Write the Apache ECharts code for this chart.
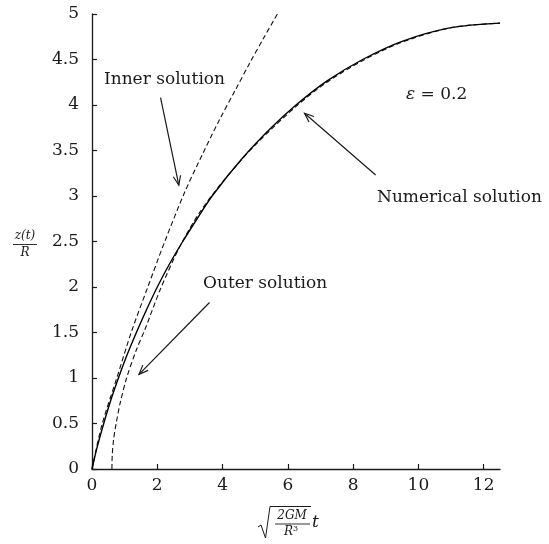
<!DOCTYPE html>
<html>
<head>
<meta charset="utf-8">
<script src="https://cdn.jsdelivr.net/npm/echarts@6/dist/echarts.min.js"></script>
<style>
  html, body { margin: 0; padding: 0; background: #ffffff; }
  #chart { width: 549px; height: 544px; }
</style>
</head>
<body>
<div id="chart"></div>
<script>
// Tick values
const xTickValues = [0, 2, 4, 6, 8, 10, 12];
const yTickValues = [0, 0.5, 1, 1.5, 2, 2.5, 3, 3.5, 4, 4.5, 5];

// Numerical solution (solid)
const tNumerical = [0, 0.15, 0.36, 0.58, 0.81, 1.07, 1.36, 1.67, 2.0, 2.37, 2.78, 3.22, 3.68, 4.62, 5.49, 6.25, 7.18, 8.29, 9.5, 11.0, 12.5];
const zNumerical = [0, 0.23, 0.5, 0.76, 1.0, 1.25, 1.5, 1.75, 2.0, 2.25, 2.5, 2.75, 3.0, 3.42, 3.75, 4.0, 4.26, 4.5, 4.7, 4.85, 4.9];

// Inner solution (dashed)
const tInner = [0, 0.3, 0.76, 1.21, 1.71, 2.23, 2.85, 3.4, 3.91, 4.4, 4.83, 5.25, 5.68];
const zInner = [0, 0.48, 1.0, 1.51, 2.0, 2.5, 3.05, 3.47, 3.84, 4.17, 4.46, 4.73, 5.0];

// Outer solution (dashed)
const tOuter = [0.61, 0.62, 0.66, 0.74, 0.86, 1.06, 1.35, 1.64, 2.1, 2.7, 3.3, 4.1, 5.0, 6.3, 7.2, 8.3, 9.5, 11.0, 12.5];
const zOuter = [0, 0.15, 0.32, 0.5, 0.72, 1.0, 1.3, 1.55, 1.98, 2.45, 2.82, 3.2, 3.56, 4.0, 4.25, 4.49, 4.69, 4.85, 4.9];

const zip = (xs, ys) => xs.map((x, i) => [x, ys[i]]);

const SERIF = "'DejaVu Serif', 'Liberation Serif', serif";
const INK = '#1a1a1a';

const chart = echarts.init(document.getElementById('chart'), null, { renderer: 'canvas' });

const axisCommon = {
  axisLine: { show: true, onZero: false, lineStyle: { color: INK, width: 1.3 } },
  axisTick: { show: true, inside: true, length: 5, lineStyle: { color: INK, width: 1.2 } },
  splitLine: { show: false },
  axisLabel: { color: INK, fontFamily: SERIF, fontSize: 17 }
};

chart.setOption({
  animation: false,
  backgroundColor: '#ffffff',
  grid: { left: 92, right: 49, top: 14, bottom: 75, containLabel: false },
  xAxis: {
    type: 'value', min: 0, max: 12.5,
    ...axisCommon,
    axisTick: { ...axisCommon.axisTick, customValues: xTickValues },
    axisLabel: { ...axisCommon.axisLabel, margin: 8, customValues: xTickValues }
  },
  yAxis: {
    type: 'value', min: 0, max: 5, interval: 0.5,
    ...axisCommon,
    axisTick: { ...axisCommon.axisTick, customValues: yTickValues },
    axisLabel: { ...axisCommon.axisLabel, margin: 13, customValues: yTickValues }
  },
  series: [
    {
      name: 'Numerical solution', type: 'line', data: zip(tNumerical, zNumerical),
      smooth: 0.3, showSymbol: false, silent: true,
      lineStyle: { color: '#000', width: 1.4, type: 'solid' }, z: 3
    },
    {
      name: 'Inner solution', type: 'line', data: zip(tInner, zInner),
      smooth: 0.3, showSymbol: false, silent: true,
      lineStyle: { color: '#111', width: 1.1, type: [5, 3] }, z: 2
    },
    {
      name: 'Outer solution', type: 'line', data: zip(tOuter, zOuter),
      smooth: 0.3, showSymbol: false, silent: true,
      lineStyle: { color: '#111', width: 1.1, type: [5, 3] }, z: 2
    }
  ]
});

// Annotation arrows, given in data coordinates: [tail, head]
const arrows = [
  [[2.10, 4.08], [2.66, 3.12]],
  [[8.69, 3.23], [6.51, 3.91]],
  [[3.60, 1.83], [1.44, 1.04]]
];

function arrowGraphic(from, to) {
  const p0 = chart.convertToPixel({ gridIndex: 0 }, from);
  const p1 = chart.convertToPixel({ gridIndex: 0 }, to);
  const ang = Math.atan2(p0[1] - p1[1], p0[0] - p1[0]);
  const len = 10, spread = 0.38;
  const a = [p1[0] + len * Math.cos(ang + spread), p1[1] + len * Math.sin(ang + spread)];
  const b = [p1[0] + len * Math.cos(ang - spread), p1[1] + len * Math.sin(ang - spread)];
  const style = { stroke: INK, lineWidth: 1.2, fill: null };
  return [
    { type: 'polyline', shape: { points: [p0, p1] }, style, silent: true },
    { type: 'polyline', shape: { points: [a, p1, b] }, style, silent: true }
  ];
}

const textStyle = (extra) => Object.assign({ fill: INK, font: '17px ' + SERIF }, extra);

const graphics = [];
arrows.forEach(([f, t]) => graphics.push(...arrowGraphic(f, t)));

graphics.push(
  { type: 'text', x: 104, y: 80, style: textStyle({ text: 'Inner solution', verticalAlign: 'middle' }) },
  { type: 'text', x: 377, y: 198, style: textStyle({ text: 'Numerical solution', verticalAlign: 'middle' }) },
  { type: 'text', x: 203, y: 284, style: textStyle({ text: 'Outer solution', verticalAlign: 'middle' }) },
  {
    type: 'text', x: 406, y: 95,
    style: {
      text: '{e|ε} = 0.2', verticalAlign: 'middle', fill: INK, font: '17px ' + SERIF,
      rich: { e: { fontStyle: 'italic', fontFamily: SERIF, fontSize: 17, fill: INK } }
    }
  },
  // y-axis title: z(t) / R
  { type: 'text', x: 25, y: 236, style: textStyle({ text: 'z(t)', font: 'italic 12px ' + SERIF, align: 'center', verticalAlign: 'middle' }) },
  { type: 'line', shape: { x1: 13, y1: 244.5, x2: 37, y2: 244.5 }, style: { stroke: INK, lineWidth: 0.9 } },
  { type: 'text', x: 25, y: 253, style: textStyle({ text: 'R', font: 'italic 12px ' + SERIF, align: 'center', verticalAlign: 'middle' }) },
  // x-axis title: sqrt(2GM / R^3) t
  { type: 'polyline', shape: { points: [[258, 527], [261, 525], [265.5, 538], [270, 506.5], [311, 506.5]] }, style: { stroke: INK, lineWidth: 1, fill: null } },
  { type: 'text', x: 292, y: 516, style: textStyle({ text: '2GM', font: 'italic 12px ' + SERIF, align: 'center', verticalAlign: 'middle' }) },
  { type: 'line', shape: { x1: 275, y1: 524, x2: 310, y2: 524 }, style: { stroke: INK, lineWidth: 0.9 } },
  { type: 'text', x: 291, y: 532, style: { text: '{r|R}{s|3}', align: 'center', verticalAlign: 'middle', fill: INK,
      rich: { r: { fontStyle: 'italic', fontFamily: SERIF, fontSize: 12, fill: INK }, s: { fontFamily: SERIF, fontSize: 8, fill: INK, verticalAlign: 'top', padding: [0, 0, 6, 0] } } } },
  { type: 'text', x: 312, y: 523, style: textStyle({ text: 't', font: 'italic 17px ' + SERIF, verticalAlign: 'middle' }) }
);

chart.setOption({ graphic: graphics });
</script>
</body>
</html>
